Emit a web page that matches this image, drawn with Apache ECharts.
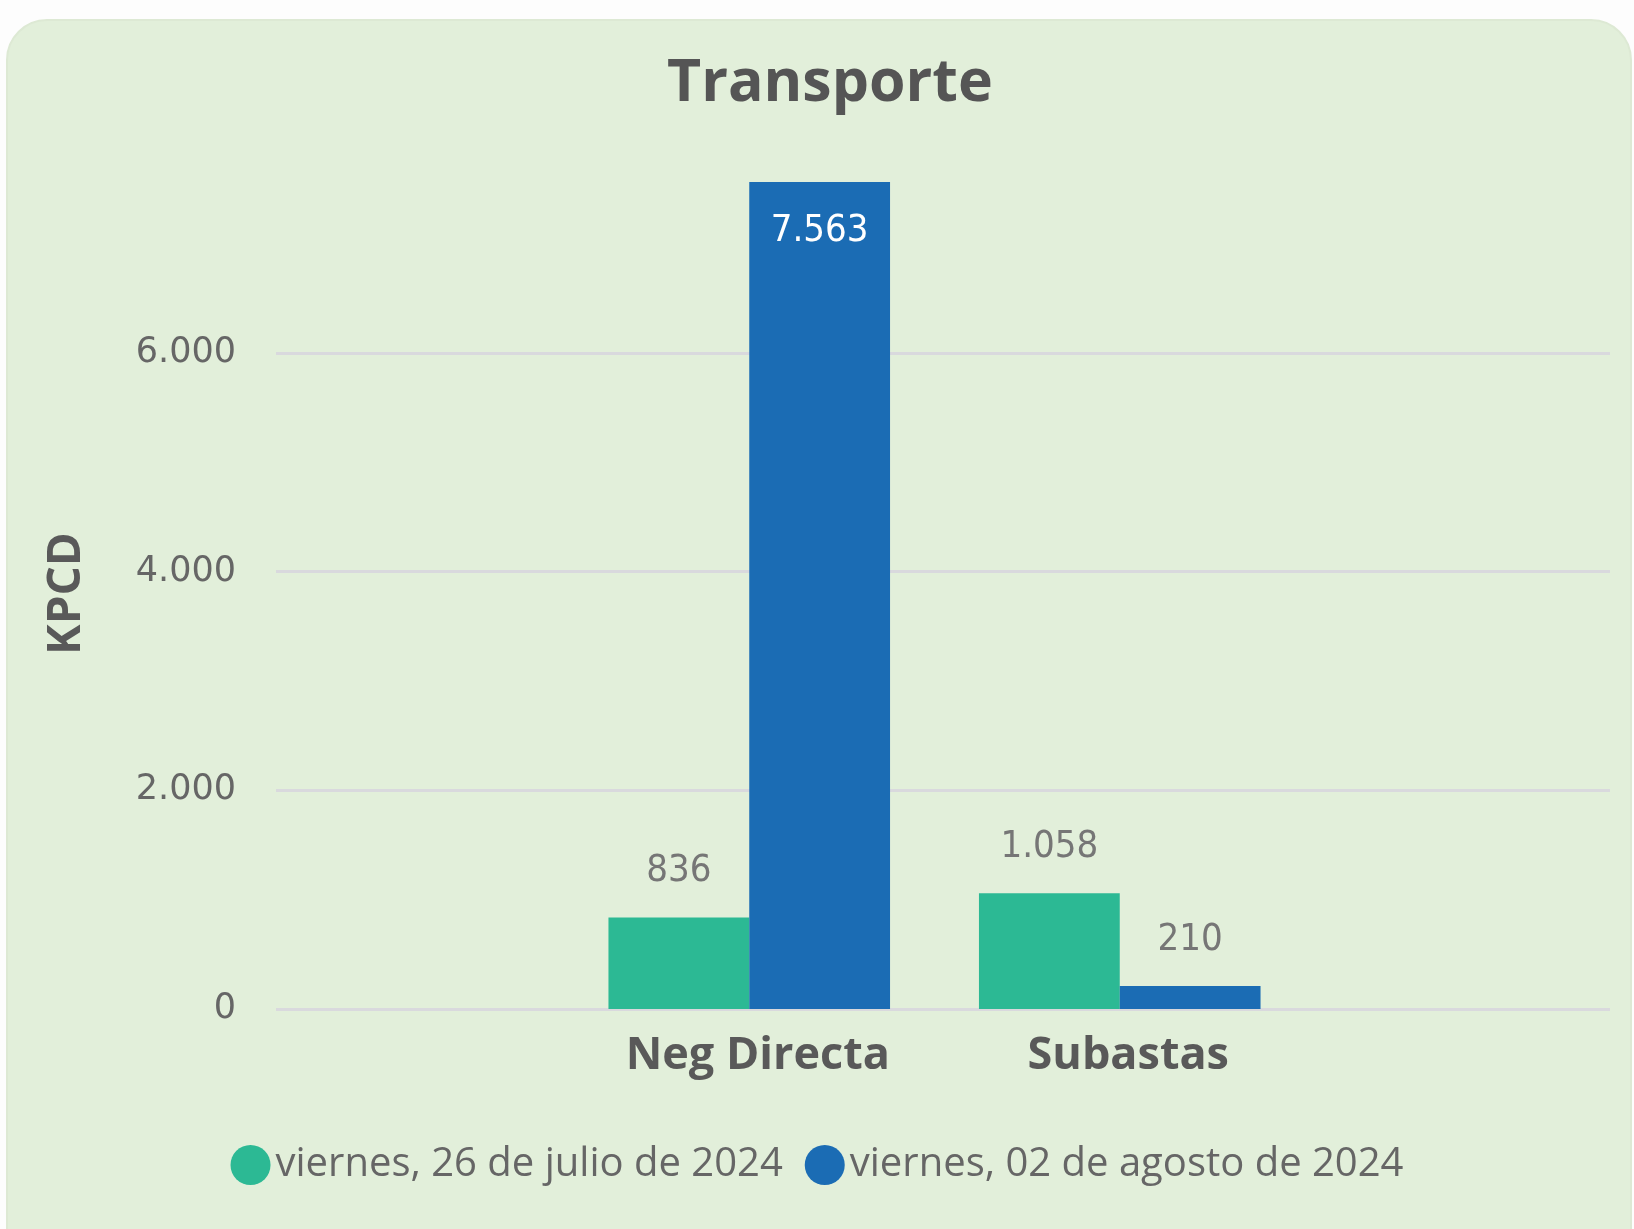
<!DOCTYPE html>
<html>
<head>
<meta charset="utf-8">
<script src="https://cdn.jsdelivr.net/npm/echarts@6/dist/echarts.min.js"></script>
<style>
  html, body { margin: 0; padding: 0; background: #fdfdfd; }
  #chart { width: 1634px; height: 1229px; }
</style>
</head>
<body>
<div id="chart"></div>
<script>
// datos
var categories = ['Neg Directa', 'Subastas'];
var seriesNames = ['viernes, 26 de julio de 2024', 'viernes, 02 de agosto de 2024'];
var julio26 = [836, 1058];
var agosto02 = [7563, 210];
var yTicks = [0, 2000, 4000, 6000];

var colors = ['#2cb994', '#1b6cb4'];
var segoe = '"Open Sans", "Noto Sans", sans-serif';
var din = '"Liberation Sans Narrow", "DejaVu Sans Condensed", sans-serif';

// separador de miles con punto
function fmt(v) {
  return String(Math.round(v)).replace(/\B(?=(\d{3})+(?!\d))/g, '.');
}

var labelTop = {
  show: true,
  position: 'top',
  distance: 27,
  fontFamily: din,
  fontSize: 38,
  color: '#767676',
  formatter: function (p) { return fmt(p.value); }
};

// barras altas llevan la etiqueta dentro, en blanco
function buildData(values) {
  return values.map(function (v) {
    if (v > 7000) {
      return { value: v, label: { position: 'insideTop', distance: 30, color: '#ffffff' } };
    }
    return v;
  });
}

var option = {
  backgroundColor: '#fdfdfd',
  animation: false,
  graphic: [{
    type: 'rect',
    z: -10,
    shape: { x: 7, y: 20, width: 1624, height: 1260, r: 40 },
    style: { fill: '#e2efda', stroke: '#dde9d4', lineWidth: 2 }
  }],
  title: {
    text: 'Transporte',
    left: 662,
    top: 50,
    textStyle: { fontFamily: segoe, fontSize: 59, fontWeight: 'bold', color: '#555555' }
  },
  legend: {
    data: seriesNames,
    left: 'center',
    top: 1140,
    icon: 'circle',
    itemWidth: 40,
    itemHeight: 40,
    itemGap: 22,
    textStyle: { fontFamily: segoe, fontSize: 40, color: '#666666' }
  },
  grid: [
    { left: 276, right: 24, top: 178, bottom: 220 },
    { left: 564, right: 329, top: 178, bottom: 220 }
  ],
  xAxis: [
    { gridIndex: 0, type: 'category', data: [''], show: false },
    {
      gridIndex: 1,
      type: 'category',
      data: categories,
      axisLine: { show: false },
      axisTick: { show: false },
      axisLabel: {
        fontFamily: segoe, fontSize: 45, fontWeight: 'bold', color: '#595959',
        margin: 25, padding: [0, 0, 0, 17]
      }
    }
  ],
  yAxis: [
    {
      gridIndex: 0,
      type: 'value',
      min: 0,
      max: 7600,
      interval: 2000,
      name: 'KPCD',
      nameLocation: 'middle',
      nameGap: 186,
      nameTextStyle: { fontFamily: segoe, fontSize: 46, fontWeight: 'bold', color: '#595959' },
      axisLine: { show: false },
      axisTick: { show: false },
      axisLabel: {
        fontFamily: '"DejaVu Sans", sans-serif',
        fontSize: 35,
        color: '#666666',
        margin: 40,
        formatter: function (v) { return yTicks.indexOf(v) > -1 ? fmt(v) : ''; }
      },
      splitLine: { show: true, showMaxLine: false, lineStyle: { color: '#d9d9dd', width: 3 } }
    },
    { gridIndex: 1, type: 'value', min: 0, max: 7600, show: false, splitLine: { show: false } }
  ],
  series: [
    {
      name: seriesNames[0],
      type: 'bar',
      xAxisIndex: 1,
      yAxisIndex: 1,
      barGap: 0,
      barCategoryGap: '24%',
      itemStyle: { color: colors[0] },
      label: labelTop,
      data: buildData(julio26)
    },
    {
      name: seriesNames[1],
      type: 'bar',
      xAxisIndex: 1,
      yAxisIndex: 1,
      barGap: 0,
      barCategoryGap: '24%',
      itemStyle: { color: colors[1] },
      label: labelTop,
      data: buildData(agosto02)
    }
  ]
};

var chart = echarts.init(document.getElementById('chart'));
chart.setOption(option);
</script>
</body>
</html>
